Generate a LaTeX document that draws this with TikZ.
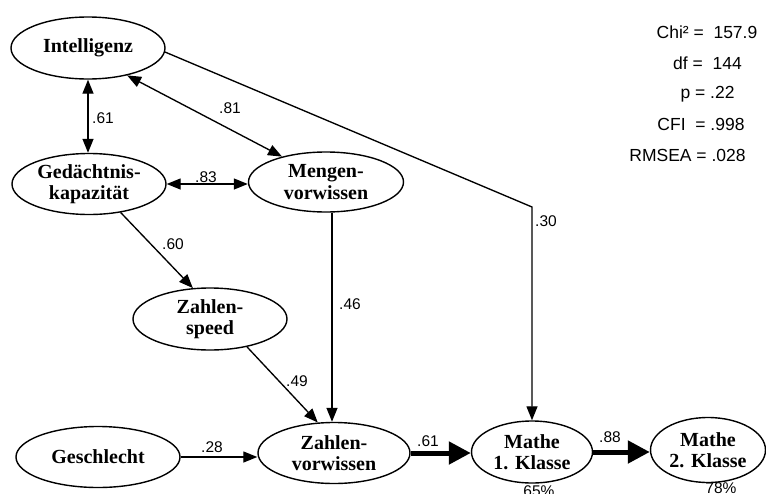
\documentclass[tikz,border=0pt]{standalone}
\usepackage{fontspec}
\setmainfont{Liberation Serif}
\newfontfamily\labelfont{Liberation Sans}
\usetikzlibrary{shapes.geometric,arrows.meta}

\begin{document}
\begin{tikzpicture}[x=1pt,y=-1pt,
  latent/.style={draw, ellipse, line width=1.4pt, inner sep=0pt, align=center,
    font=\fontsize{20}{21.5}\selectfont\bfseries},
  path/.style={line width=1.35pt, -{Triangle[length=14pt,width=11pt]}},
  corr/.style={line width=1.35pt, {Triangle[length=14pt,width=11pt]}-{Triangle[length=14pt,width=11pt]}},
  strong/.style={line width=5pt, -{Triangle[length=22pt,width=22pt]}},
  coef/.style={font=\labelfont\fontsize{15.5}{17}\selectfont, inner sep=0pt},
  fit/.style={font=\labelfont\fontsize{17.5}{19}\selectfont, inner sep=0pt}]
\useasboundingbox (0,0) rectangle (766,493);

% latent variables
\node[latent, minimum width=154pt, minimum height=62pt] (I)  at (88,48)  {Intelligenz};
\node[latent, minimum width=154pt, minimum height=61pt] (G)  at (89,184) {Gedächtnis-\\kapazität};
\node[latent, minimum width=155pt, minimum height=60pt] (M)  at (326,182) {Mengen-\\vorwissen};
\node[latent, minimum width=154pt, minimum height=62pt] (S)  at (210,319) {Zahlen-\\speed};
\node[latent, minimum width=164pt, minimum height=61pt] (Ge) at (98,457) {Geschlecht};
\node[latent, minimum width=152pt, minimum height=61pt] (ZV) at (334,453) {Zahlen-\\vorwissen};
\node[latent, minimum width=121pt, minimum height=62pt] (M1) at (532,452) {Mathe\\1. Klasse};
\node[latent, minimum width=115pt, minimum height=65pt] (M2) at (708,450) {Mathe\\2. Klasse};

% explained variance (partly below the lower edge)
\node[coef, anchor=north] (r1) at (539,485) {65\%};
\node[coef, anchor=north] (r2) at (721,482) {78\%};

% correlations
\draw[corr] (I.south) -- (I.south |- G.north);
\draw[corr] (I.-35) -- (M.150);
\draw[corr] (G.east) -- (G.east -| M.west);

% paths
\draw[path] (G.-42) -- (S.119);
\draw[path] (S.-37) -- (ZV.118);
\draw[path] ([xshift=6pt]M.south) -- ([xshift=6pt]M.south |- ZV.north);
\draw[path] (Ge.east) -- (Ge.east -| ZV.west);
\coordinate (bend) at (532,207);
\draw[path] (I.-3) -- (bend) -- (M1.north);
\draw[strong] (ZV.east) -- (ZV.east -| M1.west);
\draw[strong] (M1.east) -- (M1.east -| M2.west);

% coefficients
\node[coef] (c1) at (103,118) {.61};
\node[coef] (c2) at (230,108) {.81};
\node[coef] (c3) at (206,177) {.83};
\node[coef] (c4) at (173,244) {.60};
\node[coef] (c5) at (350,304) {.46};
\node[coef] (c6) at (297,381) {.49};
\node[coef] (c7) at (212,447) {.28};
\node[coef] (c8) at (546,221) {.30};
\node[coef] (c9) at (428,441) {.61};
\node[coef] (c10) at (610,437) {.88};

% fit indices
\node[fit] (f1) at (707,32)  {Chi² =\ \ 157.9};
\node[fit] (f2) at (707.5,63) {df =\ \ 144};
\node[fit] (f3) at (707.5,94) {p = .22};
\node[fit] (f4) at (701,124) {CFI\ \ = .998};
\node[fit] (f5) at (687.5,155) {RMSEA = .028};
\end{tikzpicture}
\end{document}
